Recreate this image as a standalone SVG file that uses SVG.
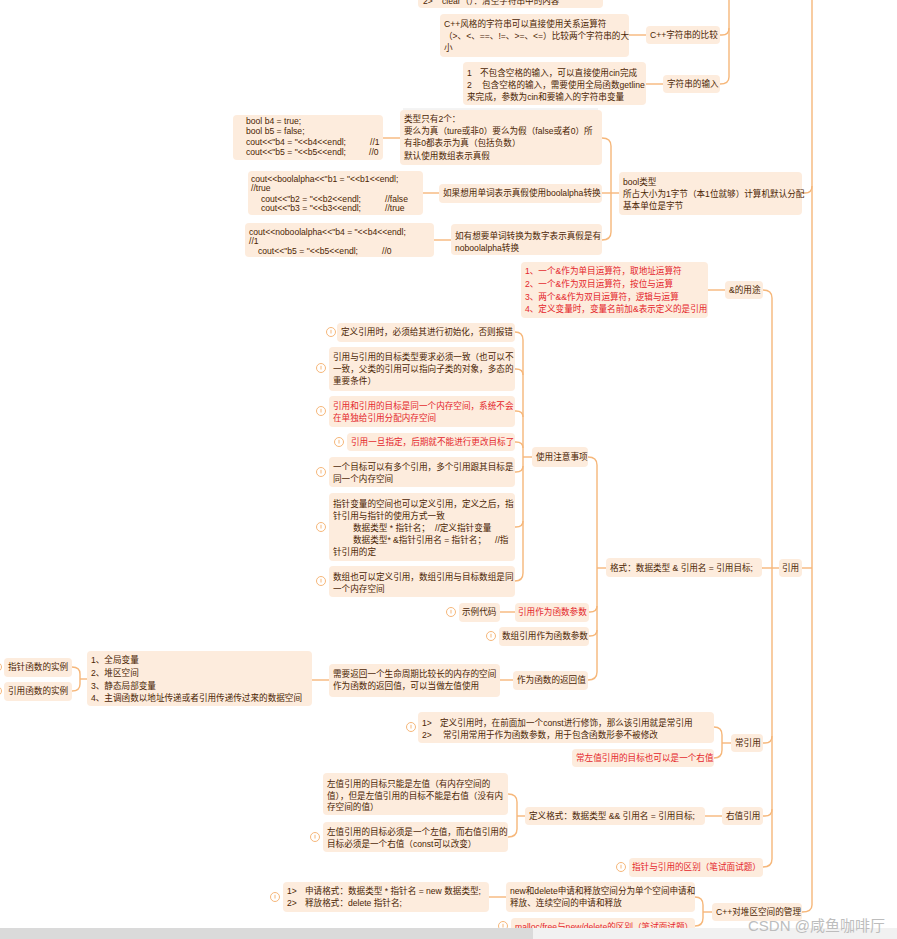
<svg xmlns="http://www.w3.org/2000/svg" width="897" height="939" viewBox="0 0 897 939">
<style>
.b{fill:#fdecdd}
.t{font-family:"Liberation Sans","Noto Sans CJK SC",sans-serif;font-size:8.6px;fill:#4b2503}
.r{fill:#e4262b}
.c{fill:none;stroke:#f6b77a;stroke-width:1.4}
.ic{fill:#fff;stroke:#f6b77a;stroke-width:1}
.il{stroke:#f6b77a;stroke-width:1}
.wm{font-family:"Liberation Sans","Noto Sans CJK SC",sans-serif;font-size:15px;fill:#bdbdbd}
</style>
<defs>
<g id="icon"><circle class="ic" r="4.5"/><line class="il" x1="0" y1="-2.2" x2="0" y2="1.5"/></g>
</defs>
<rect width="897" height="939" fill="#fff"/>

<g id="connectors">
<path class="c" d="M812,-5 V905 Q812,912 802,912"/>
<path class="c" d="M802,193 H805 Q812,193 812,186"/>
<path class="c" d="M802,568 H812"/>
<path class="c" d="M729,-5 V77 Q729,84 720,84"/>
<path class="c" d="M720,35 H722 Q729,35 729,28"/>
<path class="c" d="M629,35 H646"/>
<path class="c" d="M646,84 H663"/>
<path class="c" d="M383,138 H400"/>
<path class="c" d="M423,193 H439"/>
<path class="c" d="M434,240 H451"/>
<path class="c" d="M602,138 Q611,138 611,146 V232 Q611,240 602,240"/>
<path class="c" d="M602,193 H619"/>
<path class="c" d="M708,290 H725"/>
<path class="c" d="M763,290 Q772,290 772,298 V859 Q772,867 763,867"/>
<path class="c" d="M762,568 H779"/>
<path class="c" d="M763,743 H765 Q772,743 772,736"/>
<path class="c" d="M763,816 H765 Q772,816 772,809"/>
<path class="c" d="M515,332 Q523,332 523,340 V573 Q523,581 515,581"/>
<path class="c" d="M515,369 H516 Q523,369 523,375"/>
<path class="c" d="M515,411 H516 Q523,411 523,417"/>
<path class="c" d="M515,442 H516 Q523,442 523,448"/>
<path class="c" d="M515,472 H516 Q523,472 523,466"/>
<path class="c" d="M515,527 H516 Q523,527 523,521"/>
<path class="c" d="M523,457 H532"/>
<path class="c" d="M588,457 Q597,457 597,465 V672 Q597,680 588,680"/>
<path class="c" d="M589,612 H590 Q597,612 597,606"/>
<path class="c" d="M589,636 H590 Q597,636 597,630"/>
<path class="c" d="M597,568 H606"/>
<path class="c" d="M500,612 H515"/>
<path class="c" d="M500,680 H513"/>
<path class="c" d="M312,680 H329"/>
<path class="c" d="M72,667 Q80,667 80,674 V684 Q80,691 72,691"/>
<path class="c" d="M80,679 H87"/>
<path class="c" d="M714,727 Q722,727 722,735 V750 Q722,758 714,758"/>
<path class="c" d="M722,743 H731"/>
<path class="c" d="M508,794 Q517,794 517,802 V829 Q517,837 508,837"/>
<path class="c" d="M517,816 H525"/>
<path class="c" d="M705,816 H722"/>
<path class="c" d="M489,897 H506"/>
<path class="c" d="M695,897 Q703,897 703,905 V918 Q703,926 695,926"/>
<path class="c" d="M703,912 H712"/>
</g>

<g id="n-clear"><rect class="b" x="418" y="-12" width="185" height="20" rx="4"/><text class="t" x="423" y="4">2&gt;</text><text class="t" x="442" y="4">clear（）：清空字符串中的内容</text></g>
<line x1="403" y1="109" x2="598" y2="109" stroke="#e8e8e8" stroke-width="1"/>

<g id="n-cmp-desc"><rect class="b" x="440" y="14" width="189" height="43" rx="4"/>
<text class="t" x="444" y="27">C++风格的字符串可以直接使用关系运算符</text>
<text class="t" x="444" y="39">（&gt;、&lt;、==、!=、&gt;=、&lt;=）比较两个字符串的大</text>
<text class="t" x="444" y="51">小</text></g>
<g id="n-cmp"><rect class="b" x="646" y="26" width="74" height="18" rx="4"/><text class="t" x="650" y="38">C++字符串的比较</text></g>

<g id="n-in-desc"><rect class="b" x="463" y="62" width="183" height="43" rx="4"/>
<text class="t" x="467" y="76">1</text><text class="t" x="480" y="76">不包含空格的输入，可以直接使用cin完成</text>
<text class="t" x="467" y="88">2</text><text class="t" x="482" y="88">包含空格的输入，需要使用全局函数getline</text>
<text class="t" x="467" y="100">来完成，参数为cin和要输入的字符串变量</text></g>
<g id="n-in"><rect class="b" x="663" y="75" width="57" height="18" rx="4"/><text class="t" x="667" y="87">字符串的输入</text></g>

<g id="n-code1"><rect class="b" x="233" y="115" width="150" height="45" rx="4"/>
<text class="t" x="246" y="124">bool b4 = true;</text>
<text class="t" x="246" y="134">bool b5 = false;</text>
<text class="t" x="246" y="145">cout&lt;&lt;"b4 = "&lt;&lt;b4&lt;&lt;endl;</text><text class="t" x="370" y="145">//1</text>
<text class="t" x="246" y="155">cout&lt;&lt;"b5 = "&lt;&lt;b5&lt;&lt;endl;</text><text class="t" x="369" y="155">//0</text></g>
<g id="n-type"><rect class="b" x="400" y="110" width="202" height="55" rx="4"/>
<text class="t" x="404" y="122">类型只有2个：</text>
<text class="t" x="404" y="134">要么为真（ture或非0）要么为假（false或者0）所</text>
<text class="t" x="404" y="146">有非0都表示为真（包括负数）</text>
<text class="t" x="404" y="159">默认使用数组表示真假</text></g>
<g id="n-bool"><rect class="b" x="619" y="172" width="183" height="43" rx="4"/>
<text class="t" x="623" y="185">bool类型</text>
<text class="t" x="623" y="197">所占大小为1字节（本1位就够）计算机默认分配</text>
<text class="t" x="623" y="209">基本单位是字节</text></g>
<g id="n-code2"><rect class="b" x="248" y="171" width="175" height="44" rx="4"/>
<text class="t" x="251" y="182">cout&lt;&lt;boolalpha&lt;&lt;"b1 = "&lt;&lt;b1&lt;&lt;endl;</text>
<text class="t" x="251" y="191">//true</text>
<text class="t" x="261" y="202">cout&lt;&lt;"b2 = "&lt;&lt;b2&lt;&lt;endl;</text><text class="t" x="385" y="202">//false</text>
<text class="t" x="261" y="211">cout&lt;&lt;"b3 = "&lt;&lt;b3&lt;&lt;endl;</text><text class="t" x="385" y="211">//true</text></g>
<g id="n-alpha"><rect class="b" x="439" y="184" width="163" height="19" rx="4"/><text class="t" x="443" y="196">如果想用单词表示真假使用boolalpha转换</text></g>
<g id="n-code3"><rect class="b" x="245" y="223" width="189" height="34" rx="4"/>
<text class="t" x="249" y="235">cout&lt;&lt;noboolalpha&lt;&lt;"b4 = "&lt;&lt;b4&lt;&lt;endl;</text>
<text class="t" x="249" y="244">//1</text>
<text class="t" x="258" y="254">cout&lt;&lt;"b5 = "&lt;&lt;b5&lt;&lt;endl;</text><text class="t" x="382" y="254">//0</text></g>
<g id="n-noalpha"><rect class="b" x="451" y="224" width="151" height="31" rx="4"/>
<text class="t" x="455" y="239">如有想要单词转换为数字表示真假是有</text>
<text class="t" x="455" y="251">noboolalpha转换</text></g>

<g id="n-amp-desc"><rect class="b" x="521" y="262" width="187" height="56" rx="4"/>
<text class="t r" x="525" y="274">1、一个&amp;作为单目运算符，取地址运算符</text>
<text class="t r" x="525" y="287">2、一个&amp;作为双目运算符，按位与运算</text>
<text class="t r" x="525" y="300">3、两个&amp;&amp;作为双目运算符，逻辑与运算</text>
<text class="t r" x="525" y="312">4、定义变量时，变量名前加&amp;表示定义的是引用</text></g>
<g id="n-amp"><rect class="b" x="725" y="281" width="38" height="18" rx="4"/><text class="t" x="729" y="293">&amp;的用途</text></g>

<g id="n-ref"><rect class="b" x="779" y="559" width="23" height="18" rx="4"/><text class="t" x="782" y="571">引用</text></g>
<g id="n-fmt"><rect class="b" x="606" y="558" width="156" height="19" rx="4"/><text class="t" x="610" y="571">格式：数据类型 &amp; 引用名 = 引用目标;</text></g>
<g id="n-note"><rect class="b" x="532" y="447" width="56" height="20" rx="4"/><text class="t" x="536" y="460">使用注意事项</text></g>

<g id="n-a"><use href="#icon" x="331" y="332"/><rect class="b" x="337" y="323" width="178" height="19" rx="4"/><text class="t" x="341" y="335">定义引用时，必须给其进行初始化，否则报错</text></g>
<g id="n-b"><use href="#icon" x="321" y="368"/><rect class="b" x="329" y="347" width="186" height="44" rx="4"/>
<text class="t" x="333" y="360">引用与引用的目标类型要求必须一致（也可以不</text>
<text class="t" x="333" y="372">一致，父类的引用可以指向子类的对象，多态的</text>
<text class="t" x="333" y="384">重要条件）</text></g>
<g id="n-c"><use href="#icon" x="321" y="411"/><rect class="b" x="329" y="396" width="186" height="31" rx="4"/>
<text class="t r" x="333" y="409">引用和引用的目标是同一个内存空间，系统不会</text>
<text class="t r" x="333" y="421">在单独给引用分配内存空间</text></g>
<g id="n-d"><use href="#icon" x="339" y="442"/><rect class="b" x="347" y="433" width="168" height="18" rx="4"/><text class="t r" x="351" y="445">引用一旦指定，后期就不能进行更改目标了</text></g>
<g id="n-e"><use href="#icon" x="321" y="472"/><rect class="b" x="329" y="457" width="186" height="30" rx="4"/>
<text class="t" x="333" y="470">一个目标可以有多个引用，多个引用跟其目标是</text>
<text class="t" x="333" y="482">同一个内存空间</text></g>
<g id="n-f"><use href="#icon" x="321" y="527"/><rect class="b" x="329" y="493" width="186" height="68" rx="4"/>
<text class="t" x="333" y="507">指针变量的空间也可以定义引用，定义之后，指</text>
<text class="t" x="333" y="519">针引用与指针的使用方式一致</text>
<text class="t" x="353" y="531">数据类型 * 指针名；</text><text class="t" x="435" y="531">//定义指针变量</text>
<text class="t" x="353" y="543">数据类型* &amp;指针引用名 = 指针名；</text><text class="t" x="495" y="543">//指</text>
<text class="t" x="333" y="555">针引用的定</text></g>
<g id="n-g"><use href="#icon" x="321" y="581"/><rect class="b" x="329" y="566" width="186" height="31" rx="4"/>
<text class="t" x="333" y="580">数组也可以定义引用，数组引用与目标数组是同</text>
<text class="t" x="333" y="592">一个内存空间</text></g>

<g id="n-ex"><use href="#icon" x="451" y="612"/><rect class="b" x="459" y="603" width="41" height="19" rx="4"/><text class="t" x="462" y="615">示例代码</text></g>
<g id="n-param"><rect class="b" x="515" y="603" width="74" height="19" rx="4"/><text class="t r" x="518" y="615">引用作为函数参数</text></g>
<g id="n-arr"><use href="#icon" x="491" y="636"/><rect class="b" x="499" y="627" width="90" height="19" rx="4"/><text class="t" x="502" y="639">数组引用作为函数参数</text></g>
<g id="n-ret"><rect class="b" x="513" y="671" width="75" height="19" rx="4"/><text class="t" x="517" y="683">作为函数的返回值</text></g>
<g id="n-ret-desc"><rect class="b" x="329" y="664" width="171" height="33" rx="4"/>
<text class="t" x="333" y="677">需要返回一个生命周期比较长的内存的空间</text>
<text class="t" x="333" y="689">作为函数的返回值，可以当做左值使用</text></g>
<g id="n-list"><rect class="b" x="87" y="651" width="225" height="55" rx="4"/>
<text class="t" x="91" y="663">1、全局变量</text>
<text class="t" x="91" y="676">2、堆区空间</text>
<text class="t" x="91" y="689">3、静态局部变量</text>
<text class="t" x="91" y="701">4、主调函数以地址传递或者引用传递传过来的数据空间</text></g>
<g id="n-ptrfn"><use href="#icon" x="-3" y="667"/><rect class="b" x="4" y="658" width="68" height="19" rx="4"/><text class="t" x="8" y="670">指针函数的实例</text></g>
<g id="n-reffn"><use href="#icon" x="-3" y="691"/><rect class="b" x="4" y="682" width="68" height="19" rx="4"/><text class="t" x="8" y="694">引用函数的实例</text></g>

<g id="n-const-desc"><use href="#icon" x="411" y="727"/><rect class="b" x="418" y="712" width="296" height="31" rx="4"/>
<text class="t" x="422" y="726">1&gt;</text><text class="t" x="440" y="726">定义引用时，在前面加一个const进行修饰，那么该引用就是常引用</text>
<text class="t" x="422" y="738">2&gt;</text><text class="t" x="443" y="738">常引用常用于作为函数参数，用于包含函数形参不被修改</text></g>
<g id="n-const-red"><rect class="b" x="572" y="749" width="142" height="18" rx="4"/><text class="t r" x="576" y="761">常左值引用的目标也可以是一个右值</text></g>
<g id="n-const"><rect class="b" x="731" y="734" width="32" height="18" rx="4"/><text class="t" x="735" y="746">常引用</text></g>

<g id="n-rv1"><rect class="b" x="323" y="773" width="185" height="42" rx="4"/>
<text class="t" x="327" y="787">左值引用的目标只能是左值（有内存空间的</text>
<text class="t" x="327" y="799">值），但是左值引用的目标不能是右值（没有内</text>
<text class="t" x="327" y="810">存空间的值）</text></g>
<g id="n-rv2"><use href="#icon" x="315" y="837"/><rect class="b" x="323" y="822" width="185" height="30" rx="4"/>
<text class="t" x="327" y="835">左值引用的目标必须是一个左值，而右值引用的</text>
<text class="t" x="327" y="847">目标必须是一个右值（const可以改变）</text></g>
<g id="n-rvfmt"><rect class="b" x="525" y="807" width="180" height="18" rx="4"/><text class="t" x="529" y="819">定义格式：数据类型 &amp;&amp; 引用名 = 引用目标;</text></g>
<g id="n-rv"><rect class="b" x="722" y="807" width="41" height="18" rx="4"/><text class="t" x="726" y="819">右值引用</text></g>
<g id="n-diff"><use href="#icon" x="621" y="867"/><rect class="b" x="629" y="858" width="134" height="19" rx="4"/><text class="t r" x="632" y="870">指针与引用的区别（笔试面试题）</text></g>

<g id="n-heap1"><use href="#icon" x="275" y="897"/><rect class="b" x="283" y="882" width="206" height="30" rx="4"/>
<text class="t" x="287" y="894">1&gt;</text><text class="t" x="305" y="894">申请格式：数据类型 * 指针名 = new 数据类型;</text>
<text class="t" x="287" y="906">2&gt;</text><text class="t" x="305" y="906">释放格式：delete 指针名;</text></g>
<g id="n-heap2"><rect class="b" x="506" y="882" width="189" height="30" rx="4"/>
<text class="t" x="510" y="894">new和delete申请和释放空间分为单个空间申请和</text>
<text class="t" x="510" y="906">释放、连续空间的申请和释放</text></g>
<g id="n-heap3"><use href="#icon" x="503" y="926"/><rect class="b" x="511" y="918" width="184" height="18" rx="4"/><text class="t r" x="515" y="930">malloc/free与new/delete的区别（笔试面试题）</text></g>
<g id="n-heap"><rect class="b" x="712" y="903" width="90" height="18" rx="4"/><text class="t" x="716" y="915">C++对堆区空间的管理</text></g>

<rect x="0" y="928" width="897" height="11" fill="#f1f1f1"/>
<rect x="0" y="928" width="533" height="11" fill="#dadada"/>
<text class="wm" x="748" y="931">CSDN @咸鱼咖啡厅</text>
</svg>
